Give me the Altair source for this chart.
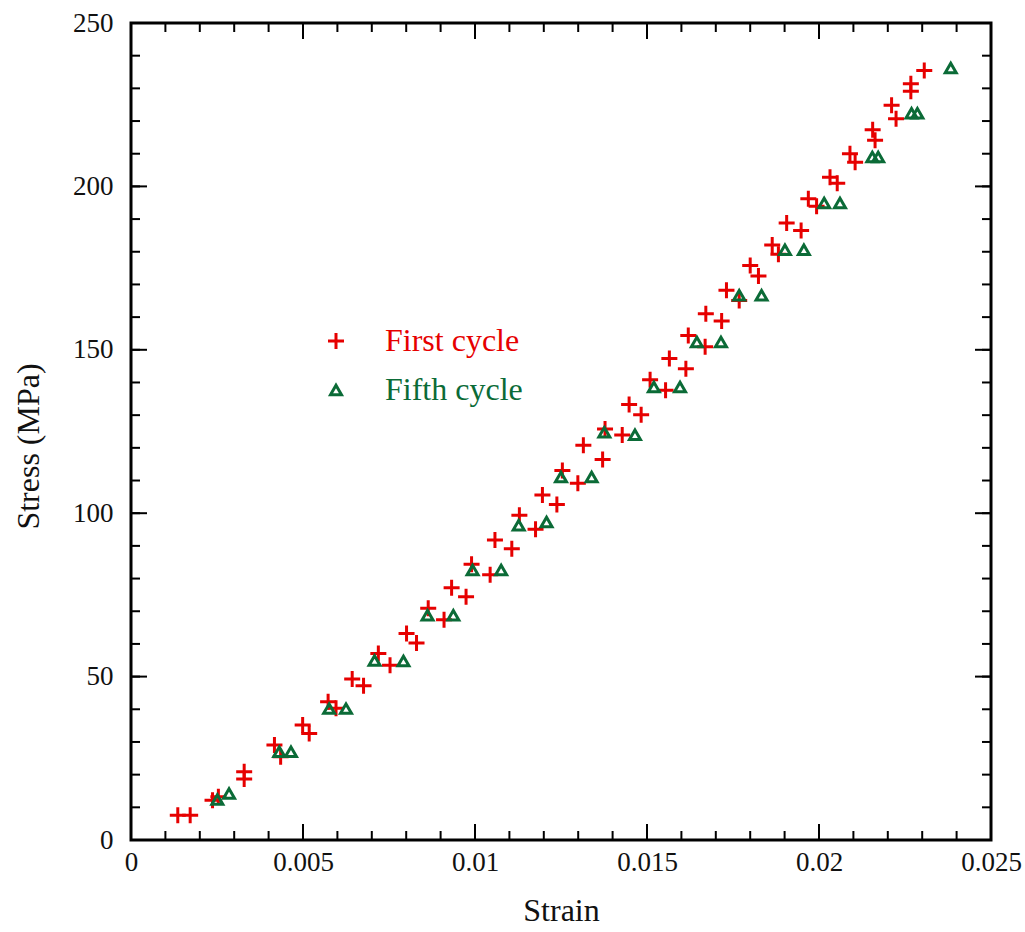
import altair as alt
import pandas as pd

# ---- data ----
first_strain = [0.00136, 0.00172, 0.00237, 0.00254, 0.00329, 0.00329, 0.00417, 0.00435,
                0.00499, 0.00518, 0.00573, 0.00596, 0.00643, 0.00676, 0.00719, 0.00753,
                0.00801, 0.00830, 0.00864, 0.00910, 0.00932, 0.00974, 0.00990, 0.01044,
                0.01058, 0.01107, 0.01129, 0.01176, 0.01196, 0.01238, 0.01254, 0.01299,
                0.01315, 0.01371, 0.01378, 0.01428, 0.01448, 0.01483, 0.01509, 0.01554,
                0.01565, 0.01613, 0.01620, 0.01669, 0.01671, 0.01717, 0.01731, 0.01768,
                0.01800, 0.01824, 0.01864, 0.01882, 0.01906, 0.01948, 0.01969, 0.01993,
                0.02032, 0.02053, 0.02090, 0.02105, 0.02156, 0.02163, 0.02211, 0.02224,
                0.02267, 0.02267, 0.02306]
first_stress = [7.6, 7.6, 12.2, 13.2, 20.9, 18.7, 29.1, 25.5,
                35.2, 32.6, 42.3, 40.3, 49.3, 47.2, 57.1, 53.5,
                63.2, 60.3, 70.9, 67.4, 77.2, 74.4, 84.4, 81.2,
                91.8, 89.1, 99.4, 95.1, 105.6, 102.7, 113.1, 109.2,
                120.8, 116.4, 125.8, 123.9, 133.3, 130.1, 140.8, 137.6,
                147.3, 144.2, 154.4, 150.9, 161.0, 158.8, 168.2, 165.1,
                175.8, 172.6, 182.1, 179.2, 188.8, 186.5, 196.2, 193.9,
                202.8, 201.0, 210.0, 207.4, 217.3, 214.1, 224.8, 220.7,
                231.4, 229.1, 235.5]

fifth_strain = [0.00251, 0.00285, 0.00431, 0.00465, 0.00576, 0.00625, 0.00708, 0.00792,
                0.00862, 0.00937, 0.00993, 0.01076, 0.01127, 0.01208, 0.01250, 0.01339,
                0.01376, 0.01465, 0.01520, 0.01596, 0.01645, 0.01715, 0.01768, 0.01833,
                0.01901, 0.01956, 0.02015, 0.02061, 0.02155, 0.02172, 0.02269, 0.02286,
                0.02383]
fifth_stress = [12.4, 14.2, 27.0, 27.0, 40.2, 40.2, 54.9, 54.8,
                68.8, 68.8, 82.6, 82.6, 96.3, 97.3, 111.1, 111.1,
                124.8, 124.0, 138.6, 138.6, 152.4, 152.4, 166.7, 166.7,
                180.6, 180.6, 194.9, 194.9, 209.0, 209.0, 222.4, 222.4,
                236.2]

series_names = ["First cycle", "Fifth cycle"]
series_colors = ["#e60000", "#0b6b37"]

x_major = [0, 0.005, 0.01, 0.015, 0.02, 0.025]
x_minor = [0, 0.001, 0.002, 0.003, 0.004, 0.005, 0.006, 0.007, 0.008, 0.009, 0.01,
           0.011, 0.012, 0.013, 0.014, 0.015, 0.016, 0.017, 0.018, 0.019, 0.02,
           0.021, 0.022, 0.023, 0.024, 0.025]
y_major = [0, 50, 100, 150, 200, 250]
y_minor = [0, 10, 20, 30, 40, 50, 60, 70, 80, 90, 100, 110, 120, 130, 140, 150,
           160, 170, 180, 190, 200, 210, 220, 230, 240, 250]

# ---- tables ----
df = pd.concat([
    pd.DataFrame({"strain": first_strain, "stress": first_stress, "series": series_names[0]}),
    pd.DataFrame({"strain": fifth_strain, "stress": fifth_stress, "series": series_names[1]}),
])

W, H = 860, 817
FONT = "Liberation Serif"
CROSS = "M-1,0H1M0,-1V1"

xscale = alt.Scale(domain=[0, 0.025], nice=False, zero=False)
yscale = alt.Scale(domain=[0, 250], nice=False, zero=False)

label_color_expr = ("datum.label == '%s' ? '%s' : '%s'"
                    % (series_names[0], series_colors[0], series_colors[1]))

points = alt.Chart(df).mark_point(filled=False, strokeWidth=3, opacity=1).encode(
    x=alt.X("strain:Q", scale=xscale, title="Strain",
            axis=alt.Axis(values=x_major, format=".3~f", ticks=False, domain=False, grid=False,
                          labelFlush=False, labelOverlap=False, labelPadding=9,
                          labelFontSize=27, labelFont=FONT, labelColor="#111",
                          titleFont=FONT, titleFontSize=32, titleFontWeight="normal",
                          titleColor="#111", titlePadding=20)),
    y=alt.Y("stress:Q", scale=yscale, title="Stress (MPa)",
            axis=alt.Axis(values=y_major, ticks=False, domain=False, grid=False,
                          labelPadding=18, labelFontSize=27, labelFont=FONT, labelColor="#111",
                          titleFont=FONT, titleFontSize=32, titleFontWeight="normal",
                          titleColor="#111", titlePadding=27, titleY=423)),
    color=alt.Color("series:N", scale=alt.Scale(domain=series_names, range=series_colors),
                    legend=alt.Legend(title=None, orient="none", legendX=189, legendY=302,
                                      padding=0, labelFont=FONT, labelFontSize=32,
                                      labelOffset=33, rowPadding=17, symbolSize=144,
                                      symbolStrokeWidth=3,
                                      labelColor=alt.ExprRef(expr=label_color_expr))),
    shape=alt.Shape("series:N", scale=alt.Scale(domain=series_names, range=[CROSS, "triangle-up"])),
    size=alt.Size("series:N", scale=alt.Scale(domain=series_names, range=[256, 120]), legend=None),
)


def ticks(values, axis, length):
    d = pd.DataFrame({"v": values})
    base = alt.Chart(d).mark_rule(color="black", strokeWidth=2)
    if axis == "bottom":
        return base.encode(x=alt.X("v:Q", scale=xscale), y=alt.value(H), y2=alt.value(H - length))
    if axis == "top":
        return base.encode(x=alt.X("v:Q", scale=xscale), y=alt.value(0), y2=alt.value(length))
    if axis == "left":
        return base.encode(y=alt.Y("v:Q", scale=yscale), x=alt.value(0), x2=alt.value(length))
    return base.encode(y=alt.Y("v:Q", scale=yscale), x=alt.value(W), x2=alt.value(W - length))


tick_layers = []
for side in ["bottom", "top"]:
    tick_layers.append(ticks(x_minor, side, 9))
    tick_layers.append(ticks(x_major, side, 16))
for side in ["left", "right"]:
    tick_layers.append(ticks(y_minor, side, 9))
    tick_layers.append(ticks(y_major, side, 16))

chart = alt.layer(points, *tick_layers).properties(
    width=W, height=H,
    autosize=alt.AutoSizeParams(type="none"),
    padding={"left": 131, "top": 23, "right": 34, "bottom": 92},
    background="white",
).configure_view(stroke="black", strokeWidth=3)

chart.save("out.html", embed_options={"renderer": "svg", "actions": False})
